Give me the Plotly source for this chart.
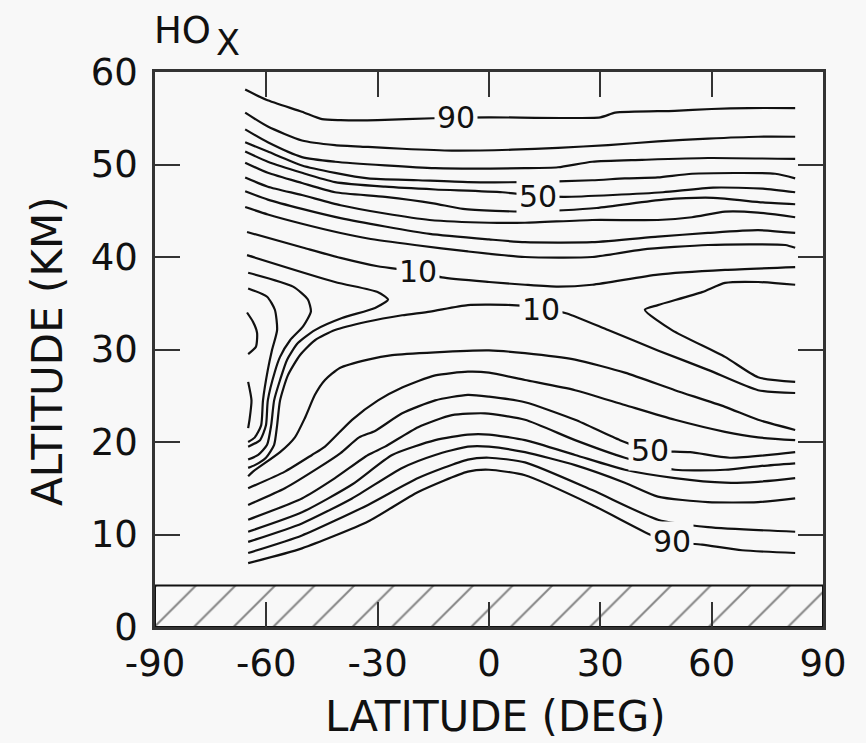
import plotly.graph_objects as go

# ---------------- data: contour lines (latitude deg, altitude km) ----------------
# upper group (decreasing from 90 at top to 10)
c_top1_lat = [-65.7, -60, -50.4, -45, -40, -30, -15, 0, 30, 34, 50, 60, 70, 82.5]
c_top1_alt = [58.1, 57.0, 55.7, 54.9, 54.8, 54.8, 55.0, 55.1, 55.1, 55.6, 55.8, 56.0, 56.1, 56.1]
c_top2_lat = [-65.7, -59.6, -50.4, -41.5, -32.6, -23.4, -10, 6.2, 18.6, 32.1, 45.5, 59, 72.5, 82.5]
c_top2_alt = [55.6, 54.1, 52.6, 52.1, 51.9, 51.7, 51.5, 51.6, 51.8, 52.1, 52.5, 52.8, 53.0, 53.0]
c_top3_lat = [-65.7, -59.6, -50.4, -41.5, -28, -14.5, 9.7, 18.6, 27.8, 41.2, 59, 82.5]
c_top3_alt = [53.8, 52.4, 50.8, 50.3, 49.9, 49.6, 49.6, 49.7, 50.3, 50.5, 50.7, 50.6]
c_top4_lat = [-65.7, -59.6, -50.4, -41.5, -32.6, -19.1, -5.7, 9.7, 27.8, 36.6, 45.5, 54.7, 77.1, 82.5]
c_top4_alt = [52.4, 51.4, 49.9, 49.1, 48.5, 48.3, 48.1, 48.1, 48.3, 48.5, 48.6, 49.0, 49.0, 48.5]
c_top5_lat = [-65.7, -59.6, -50.4, -41.5, -28, -14.5, 3.6, 13, 20.5, 33.4, 46.9, 60.4, 73.8, 82.5]
c_top5_alt = [51.4, 50.3, 49.1, 48.1, 47.6, 47.3, 47.0, 46.6, 46.5, 46.7, 47.0, 47.5, 47.4, 47.0]
c_top6_lat = [-65.7, -59.6, -50.4, -41.5, -28, -15, -7, 11, 29, 47, 60.4, 73.8, 82.5]
c_top6_alt = [50.2, 49.1, 48.0, 47.0, 46.5, 45.8, 45.2, 44.9, 45.3, 46.2, 46.4, 45.9, 45.7]
c_top7_lat = [-65.7, -59.6, -50.4, -40, -28, -16, 0, 9.7, 27.8, 45.5, 54.7, 63.6, 72.5, 82.5]
c_top7_alt = [48.6, 47.6, 46.7, 45.6, 44.7, 44.0, 43.7, 43.7, 44.0, 44.0, 44.3, 44.9, 44.8, 44.3]
c_top8_lat = [-65.7, -59.6, -50.4, -40, -28, -16, 0, 9.7, 27.8, 45.5, 59, 72.5, 82.5]
c_top8_alt = [47.1, 46.2, 45.2, 44.2, 43.3, 42.5, 41.9, 41.6, 41.6, 42.2, 42.6, 42.9, 42.6]
c_top9_lat = [-65.7, -59.6, -50.4, -40, -32.6, -20, -5.7, 9.7, 27.8, 41.2, 59, 79.8, 82.5]
c_top9_alt = [45.4, 44.6, 43.6, 42.6, 42.0, 41.3, 40.6, 40.0, 40.0, 40.8, 41.3, 41.3, 41.0]
c_top10_lat = [-65.2, -50, -40, -30, -19, -12.7, 0, 9.7, 18.6, 27.8, 45.5, 63.6, 82.5]
c_top10_alt = [42.7, 41.0, 39.9, 39.0, 38.4, 37.8, 37.3, 37.0, 36.8, 37.0, 38.1, 38.6, 38.9]

# southern "nose" lines and steep cluster near 60S
c_nose1_lat = [-65.2, -41.5, -29.9, -27.2, -30.7, -39.6, -46.9, -51.5, -54.4, -56.3, -57.9, -58.7, -59.8, -62.2, -64.9]
c_nose1_alt = [40.2, 37.3, 36.2, 35.4, 34.5, 33.4, 32.1, 30.7, 28.9, 26.7, 24.5, 21.8, 19.7, 18.6, 18.1]
c_nose2_lat = [-64.9, -52.8, -48.8, -48.0, -50.1, -53.6, -56.3, -57.7, -59.6, -60.1, -61.7, -64.9]
c_nose2_alt = [38.3, 36.8, 35.4, 34.1, 32.5, 31.0, 29.2, 27.6, 24.5, 21.8, 20.2, 19.5]
c_nose3_lat = [-64.9, -59.8, -57.7, -57.1, -58.5, -59.6, -60.9, -61.4, -63.1, -64.9]
c_nose3_alt = [36.6, 35.7, 34.3, 32.1, 29.9, 27.8, 24.5, 21.8, 20.5, 20.0]
c_arc_lat = [-65.2, -63.6, -62.5, -62.8, -64.9]
c_arc_alt = [34.0, 33.0, 31.8, 30.3, 29.5]
c_wavy_lat = [-64.9, -64.0, -64.5, -64.9]
c_wavy_alt = [26.5, 24.5, 22.5, 21.5]

# second "10" line and the tongue in the north
c_ten2_lat = [-64.9, -63.1, -60.1, -57.9, -57.1, -56.3, -54.2, -50.9, -46.9, -41.5, -32.9, -23.4, -15.9, -5.7, 6.2,
              14.5, 21, 32.1, 45.5, 59, 72.5, 82.5]
c_ten2_alt = [17.2, 17.5, 18.3, 19.7, 21.8, 24.5, 27.2, 29.4, 31.0, 32.1, 33.0, 33.7, 34.1, 34.8, 34.8,
              34.5, 33.9, 32.1, 29.9, 27.8, 25.6, 25.3]
c_tongue_lat = [82.5, 72.5, 63.6, 57.4, 45.5, 42.0, 49.3, 63.6, 72.5, 82.5]
c_tongue_alt = [37.0, 37.3, 37.2, 36.2, 34.8, 34.3, 32.1, 29.2, 27.0, 26.5]

# lower group (increasing from ~20 near 30 km to 90 near 10 km)
c_low1_lat = [-64.9, -63.6, -56.3, -52.3, -49.6, -46.9, -44.2, -40.2, -32.6, -26.1, -14.5, 0, 9.7, 23.2, 36.6, 50.1, 63.6, 72.5, 82.5]
c_low1_alt = [16.3, 16.8, 18.9, 20.5, 22.6, 25.1, 26.7, 28.0, 28.9, 29.4, 29.7, 29.9, 29.6, 28.9, 27.5, 25.6, 23.8, 22.4, 21.3]
c_low2_lat = [-64.9, -55, -47.7, -44.2, -36.9, -29.9, -23.4, -14.5, -5.7, 0, 9.7, 23.2, 36.6, 50.1, 63.6, 72.5, 82.5]
c_low2_alt = [15.0, 16.8, 18.6, 19.5, 22.4, 24.5, 25.9, 27.2, 27.6, 27.5, 26.7, 25.6, 24.0, 22.4, 21.1, 20.5, 20.2]
c_low3_lat = [-64.9, -55, -46, -40, -35, -30.7, -23.4, -14.5, -5.7, 0, 9.7, 23.2, 35.3, 43.4, 54.2, 64.9, 82.5]
c_low3_alt = [13.2, 15.0, 17.2, 18.8, 20.5, 21.2, 23.1, 24.5, 25.1, 24.9, 24.3, 22.4, 20.2, 19.1, 18.9, 18.3, 18.9]
c_low4_lat = [-64.9, -50.4, -41.5, -32.6, -28, -19.1, -10, -1.1, 9.7, 23.2, 36.6, 50.1, 63.6, 73, 82.5]
c_low4_alt = [11.6, 13.9, 16.1, 18.6, 19.5, 21.6, 22.9, 23.1, 22.4, 20.2, 18.3, 17.0, 17.0, 17.4, 17.7]
c_low5_lat = [-64.9, -50.4, -36.9, -26.1, -14.5, -5.7, 0, 9.7, 23.2, 36.6, 50.1, 63.6, 72.5, 82.5]
c_low5_alt = [10.3, 12.4, 15.4, 18.6, 20.2, 20.8, 20.8, 20.2, 18.6, 17.0, 16.1, 15.6, 15.7, 16.1]
c_low6_lat = [-64.9, -50.4, -36.9, -23.4, -14.5, -5.7, 0, 9.7, 23.2, 36.6, 45.5, 59, 72.5, 82.5]
c_low6_alt = [9.2, 11.2, 13.9, 17.2, 18.6, 19.5, 19.5, 18.9, 17.5, 15.6, 14.1, 13.5, 13.5, 13.9]
c_low7_lat = [-64.9, -50.4, -32.6, -19.1, -5.7, 0, 9.7, 27.8, 45.5, 59, 82.5]
c_low7_alt = [8.0, 9.9, 13.2, 16.1, 18.1, 18.3, 17.8, 14.8, 11.6, 10.8, 10.3]
c_low8_lat = [-64.9, -50.4, -32.6, -19.1, -5.7, 0, 9.7, 27.8, 43.9, 49.3, 57.4, 68.2, 82.5]
c_low8_alt = [6.9, 8.5, 11.4, 14.6, 16.8, 17.0, 16.4, 13.2, 9.9, 9.2, 8.9, 8.3, 8.0]

# contour labels
label_text = ["90", "50", "10", "10", "50", "90"]
label_lat = [-8.9, 13.2, -19.1, 14.0, 43.4, 49.3]
label_alt = [55.1, 46.5, 38.4, 34.3, 19.1, 9.2]

# ground (hatched) layer
ground_top = 4.5
lat_range = [-90, 90]
alt_range = [0, 60]
x_ticks = [-90, -60, -30, 0, 30, 60, 90]
y_ticks = [0, 10, 20, 30, 40, 50, 60]

lines = [
    (c_top1_lat, c_top1_alt), (c_top2_lat, c_top2_alt), (c_top3_lat, c_top3_alt),
    (c_top4_lat, c_top4_alt), (c_top5_lat, c_top5_alt), (c_top6_lat, c_top6_alt),
    (c_top7_lat, c_top7_alt), (c_top8_lat, c_top8_alt), (c_top9_lat, c_top9_alt),
    (c_top10_lat, c_top10_alt),
    (c_nose1_lat, c_nose1_alt), (c_nose2_lat, c_nose2_alt), (c_nose3_lat, c_nose3_alt),
    (c_arc_lat, c_arc_alt), (c_wavy_lat, c_wavy_alt),
    (c_ten2_lat, c_ten2_alt), (c_tongue_lat, c_tongue_alt),
    (c_low1_lat, c_low1_alt), (c_low2_lat, c_low2_alt), (c_low3_lat, c_low3_alt),
    (c_low4_lat, c_low4_alt), (c_low5_lat, c_low5_alt), (c_low6_lat, c_low6_alt),
    (c_low7_lat, c_low7_alt), (c_low8_lat, c_low8_alt),
]

BG = "#f8f8f8"
INK = "#111111"
AXC = "#333333"
FONT = "DejaVu Sans, Verdana, sans-serif"

fig = go.Figure()

# hatched ground band
fig.add_trace(go.Scatter(
    x=[lat_range[0], lat_range[1], lat_range[1], lat_range[0], lat_range[0]],
    y=[alt_range[0], alt_range[0], ground_top, ground_top, alt_range[0]],
    mode="lines", fill="toself",
    fillpattern=dict(shape="/", size=28, solidity=0.07, fgcolor=INK, bgcolor=BG),
    fillcolor=BG,
    line=dict(color=INK, width=2), hoverinfo="skip", showlegend=False,
))

for lx, ly in lines:
    fig.add_trace(go.Scatter(
        x=lx, y=ly, mode="lines",
        line=dict(color=INK, width=2.2, shape="spline", smoothing=0.6),
        hoverinfo="skip", showlegend=False,
    ))

for t, lx, ly in zip(label_text, label_lat, label_alt):
    fig.add_annotation(x=lx, y=ly, xref="x", yref="y", text=t, showarrow=False,
                       font=dict(family=FONT, size=30, color=INK),
                       bgcolor=BG, borderpad=2)

# title HO_X
fig.add_annotation(x=-0.004, y=1.032, xref="paper", yref="paper", text="HO",
                   showarrow=False, xanchor="left", yanchor="bottom",
                   font=dict(family=FONT, size=37, color=INK))
fig.add_annotation(x=0.088, y=1.012, xref="paper", yref="paper", text="X",
                   showarrow=False, xanchor="left", yanchor="bottom",
                   font=dict(family=FONT, size=35, color=INK))

# axis titles
fig.add_annotation(x=-0.162, y=0.497, xref="paper", yref="paper", text="ALTITUDE (KM)",
                   showarrow=False, textangle=-90, xanchor="center", yanchor="middle",
                   font=dict(family=FONT, size=42, color=INK))
fig.add_annotation(x=0.509, y=-0.162, xref="paper", yref="paper", text="LATITUDE (DEG)",
                   showarrow=False, xanchor="center", yanchor="middle",
                   font=dict(family=FONT, size=42, color=INK))

axis_common = dict(
    showgrid=False, zeroline=False, showline=True, linecolor=AXC, linewidth=2.5,
    mirror="allticks", ticks="inside", ticklen=25, tickwidth=2, tickcolor=AXC,
    tickfont=dict(family=FONT, size=37, color=INK),
)
fig.update_xaxes(range=lat_range, tickvals=x_ticks, ticktext=[str(v) for v in x_ticks],
                 ticklabelstandoff=2, **axis_common)
fig.update_yaxes(range=alt_range, tickvals=y_ticks, ticktext=[str(v) for v in y_ticks],
                 ticklabelstandoff=7, **axis_common)

fig.update_layout(
    width=866, height=743,
    margin=dict(l=155, r=43, t=72, b=116),
    paper_bgcolor=BG, plot_bgcolor=BG,
    showlegend=False,
)

fig.write_html("out.html")
